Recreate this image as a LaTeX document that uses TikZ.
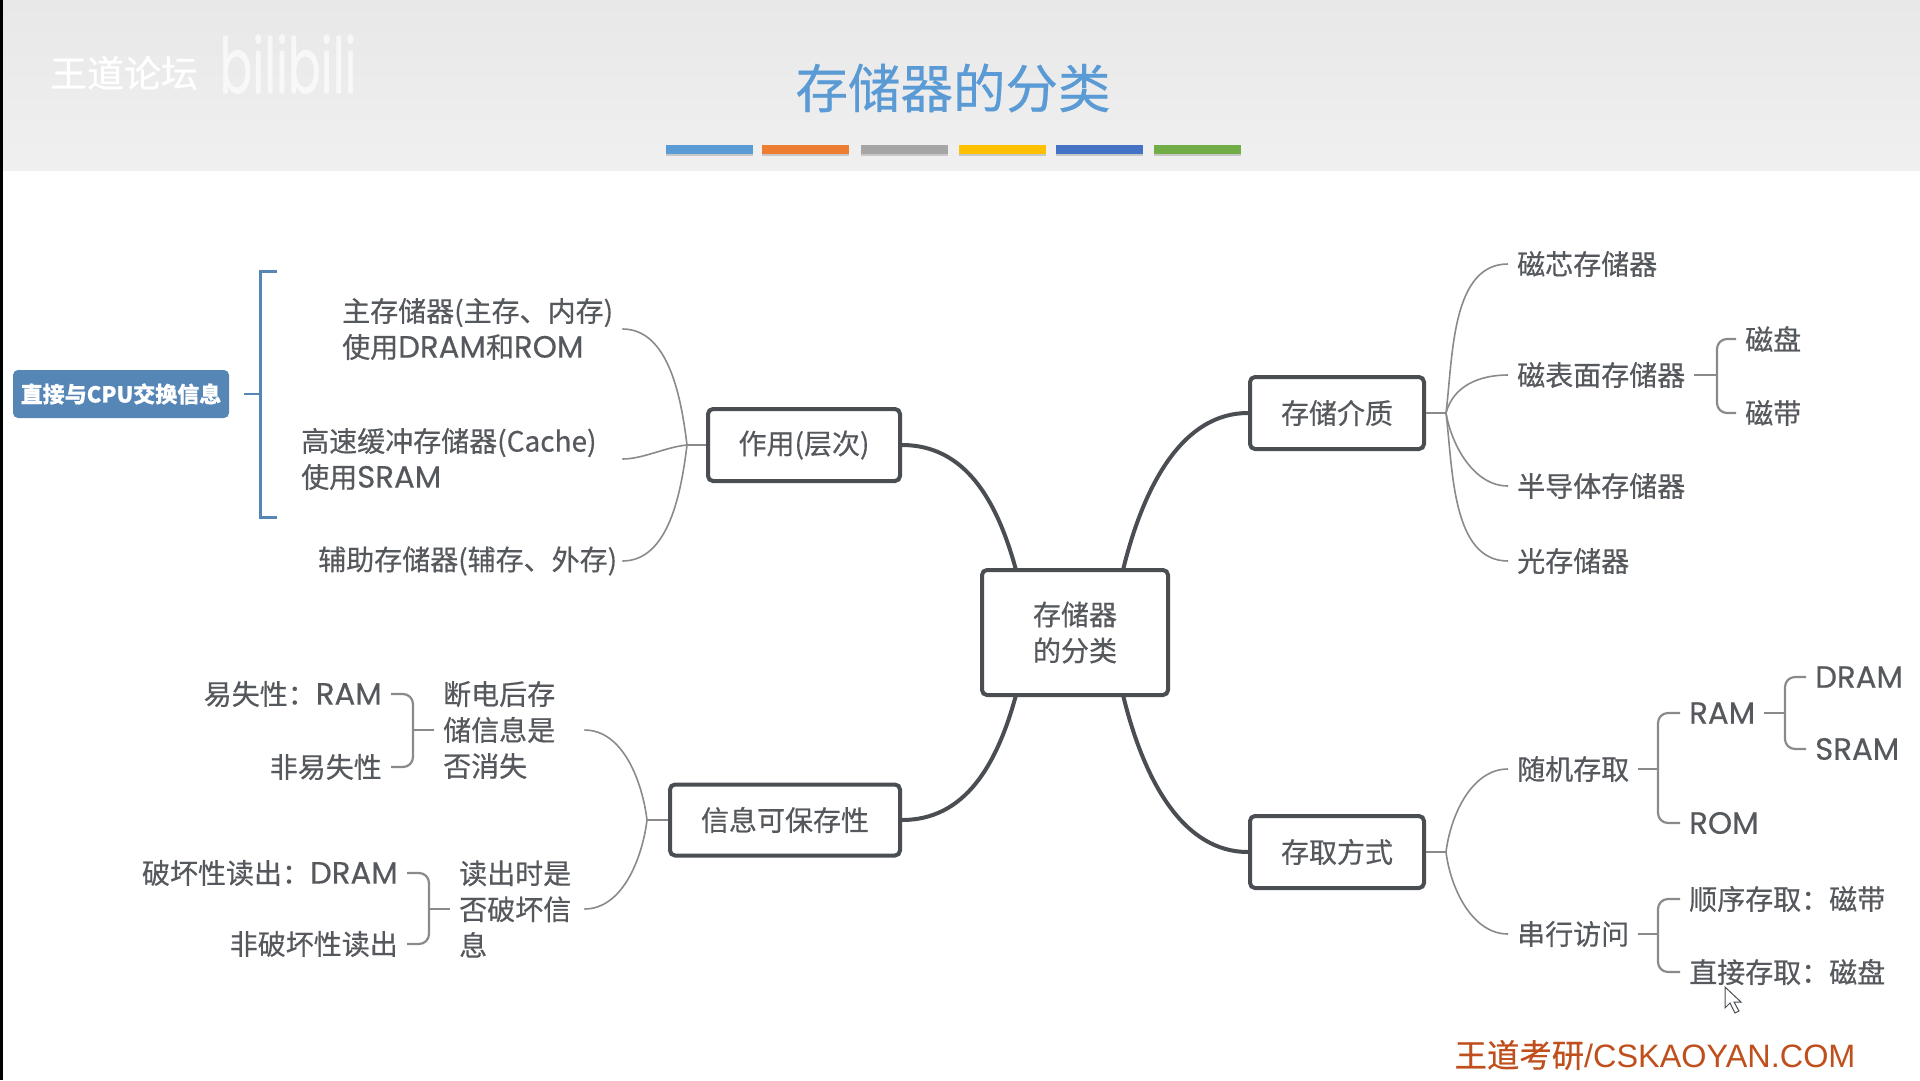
\documentclass[tikz,border=0pt]{standalone}
\usepackage{fontspec}
\setmainfont[RawFeature={embolden=0.5}]{Noto Sans CJK SC}
\newfontfamily\latfont[Scale=1.1,RawFeature={embolden=0.4}]{Poppins}
\newfontfamily\markfont{Liberation Sans}
\usepackage{tikz}
\usetikzlibrary{shadows}
\definecolor{inkGray}{HTML}{55585C}
\definecolor{boxGray}{HTML}{4A4E53}
\definecolor{lineGray}{HTML}{8A8A8A}
\definecolor{tagBlue}{HTML}{5586B6}
\definecolor{titleBlue}{HTML}{5B9BD5}
\definecolor{barOrange}{HTML}{ED7D31}
\definecolor{barGray}{HTML}{A5A5A5}
\definecolor{barYellow}{HTML}{FFC000}
\definecolor{barBlue}{HTML}{4472C4}
\definecolor{barGreen}{HTML}{70AD47}
\definecolor{markRed}{HTML}{BF4F1C}
\newcommand{\lat}[1]{{\latfont #1}}

\begin{document}
\begin{tikzpicture}[
    x=1pt, y=-1pt,
    font=\fontsize{28}{36}\selectfont,
    topic/.style={draw=boxGray, line width=4pt, rounded corners=5pt, fill=white, text=inkGray, align=center, inner sep=0pt},
    leaf/.style={text=inkGray, inner xsep=9pt, inner ysep=0pt, align=left},
    mainline/.style={draw=boxGray, line width=4pt},
    branch/.style={draw=lineGray, line width=1.6pt},
    bracket/.style={draw=lineGray, line width=2.2pt, rounded corners=10pt},
    colorbar/.style={minimum width=87pt, minimum height=9pt, inner sep=0pt, drop shadow={shadow xshift=0pt, shadow yshift=-2pt, opacity=0.35}}
]
    \useasboundingbox (0,0) rectangle (1920,1080);

    % header
    \fill[top color=black!9, bottom color=black!6] (0,0) rectangle (1920,170);
    \fill[black] (0,0) rectangle (3,1080);
    \node[text=white, font=\fontsize{37}{37}\selectfont] (forum) at (124,73) {王道论坛};
    \node[text=white, text opacity=0.65, font=\latfont\fontsize{44}{44}\selectfont, yscale=1.6] (logo) at (288,64) {bilibili};
    \node[text=titleBlue, font=\fontsize{52.5}{52.5}\selectfont] (title) at (953,88) {存储器的分类};
    \foreach \x/\c [count=\i] in {709/titleBlue,805/barOrange,904/barGray,1002/barYellow,1099/barBlue,1197/barGreen} {
        \node[colorbar, fill=\c] (bar\i) at (\x,149.5) {};
    }

    % topics
    \node[topic, minimum width=186pt, minimum height=125pt] (root) at (1075,632.5) {存储器\\的分类};
    \node[topic, minimum width=192pt, minimum height=72pt] (level) at (804,445) {作用(层次)};
    \node[topic, minimum width=230pt, minimum height=71pt] (keep) at (785,820) {信息可保存性};
    \node[topic, minimum width=174pt, minimum height=72pt] (medium) at (1337,413) {存储介质};
    \node[topic, minimum width=174pt, minimum height=72pt] (access) at (1337,852) {存取方式};

    \draw[mainline] (level.east) .. controls (965,445) and (997,500) .. (1016,570);
    \draw[mainline] (keep.east) .. controls (965,820) and (997,765) .. (1016,695);
    \draw[mainline] (medium.west) .. controls (1185,413) and (1145,480) .. (1123,570);
    \draw[mainline] (access.west) .. controls (1185,852) and (1145,785) .. (1123,695);

    % top left
    \node[leaf, anchor=west, text width=271pt] (mainmem) at (333,329) {主存储器(主存、内存)\\使用\lat{DRAM}和\lat{ROM}};
    \node[leaf, anchor=west, text width=312pt] (cache) at (292,459) {高速缓冲存储器(Cache)\\使用\lat{SRAM}};
    \node[leaf, anchor=west, text width=295pt] (aux) at (309,561) {辅助存储器(辅存、外存)};
    \coordinate (levelhub) at (687,445);
    \draw[branch] (level.west) -- (levelhub);
    \draw[branch] (levelhub) to[out=97, in=0, looseness=0.9] (mainmem.east);
    \draw[branch] (levelhub) to[out=185, in=0, looseness=0.8] (cache.east);
    \draw[branch] (levelhub) to[out=-97, in=0, looseness=0.9] (aux.east);

    \node[fill=tagBlue, text=white, rounded corners=5pt, minimum width=216pt, minimum height=48pt, inner sep=0pt, font=\fontsize{22}{22}\selectfont\bfseries] (direct) at (121,394) {直接与CPU交换信息};
    \coordinate (brackettop) at (277,271);
    \coordinate (bracketmid) at (260,394);
    \coordinate (bracketlow) at (277,517);
    \draw[draw=tagBlue, line width=3pt] (brackettop) -- (260,271) -- (260,517) -- (bracketlow);
    \draw[draw=tagBlue, line width=2.2pt] (bracketmid) -- (244,394);

    % bottom left
    \node[leaf, anchor=west, text width=132pt] (power) at (434,730) {断电后存\\储信息是\\否消失};
    \node[leaf, anchor=west, text width=116pt] (readq) at (450,909) {读出时是\\否破坏信\\息};
    \coordinate (keephub) at (647,820);
    \draw[branch] (keep.west) -- (keephub);
    \draw[branch] (keephub) to[out=97, in=0, looseness=0.9] (power.east);
    \draw[branch] (keephub) to[out=-97, in=0, looseness=0.9] (readq.east);

    \node[leaf, anchor=east] (volatile) at (391,694) {易失性：\lat{RAM}};
    \node[leaf, anchor=east] (nonvol) at (391,767) {非易失性};
    \coordinate (powerhub) at (413,730);
    \draw[bracket] (power.west) -- (powerhub);
    \foreach \n in {volatile,nonvol} \draw[bracket] (powerhub) |- (\n.east);

    \node[leaf, anchor=east] (destruct) at (407,873) {破坏性读出：\lat{DRAM}};
    \node[leaf, anchor=east] (nondes) at (407,944) {非破坏性读出};
    \coordinate (readhub) at (429,909);
    \draw[bracket] (readq.west) -- (readhub);
    \foreach \n in {destruct,nondes} \draw[bracket] (readhub) |- (\n.east);

    % top right
    \node[leaf, anchor=west] (core) at (1508,264) {磁芯存储器};
    \node[leaf, anchor=west] (surface) at (1508,375) {磁表面存储器};
    \node[leaf, anchor=west] (semi) at (1508,486) {半导体存储器};
    \node[leaf, anchor=west] (optic) at (1508,561) {光存储器};
    \coordinate (mediumhub) at (1446,413);
    \draw[branch] (medium.east) -- (mediumhub);
    \draw[branch] (mediumhub) to[out=83, in=180, looseness=0.9] (core.west);
    \draw[branch] (mediumhub) to[out=75, in=180] (surface.west);
    \draw[branch] (mediumhub) to[out=-80, in=180, looseness=0.9] (semi.west);
    \draw[branch] (mediumhub) to[out=-83, in=180, looseness=0.9] (optic.west);

    \node[leaf, anchor=west] (disk) at (1736,339) {磁盘};
    \node[leaf, anchor=west] (tape) at (1736,413) {磁带};
    \coordinate (surfacehub) at (1717,375);
    \draw[bracket] (surface.east) -- (surfacehub);
    \foreach \n in {disk,tape} \draw[bracket] (surfacehub) |- (\n.west);

    % bottom right
    \node[leaf, anchor=west] (random) at (1508,769) {随机存取};
    \node[leaf, anchor=west] (serial) at (1508,934) {串行访问};
    \coordinate (accesshub) at (1446,852);
    \draw[branch] (access.east) -- (accesshub);
    \draw[branch] (accesshub) to[out=83, in=180, looseness=0.9] (random.west);
    \draw[branch] (accesshub) to[out=-83, in=180, looseness=0.9] (serial.west);

    \node[leaf, anchor=west] (ram) at (1680,713) {\lat{RAM}};
    \node[leaf, anchor=west] (rom) at (1680,823) {\lat{ROM}};
    \coordinate (randomhub) at (1658,769);
    \draw[bracket] (random.east) -- (randomhub);
    \foreach \n in {ram,rom} \draw[bracket] (randomhub) |- (\n.west);

    \node[leaf, anchor=west] (dram) at (1806,677) {\lat{DRAM}};
    \node[leaf, anchor=west] (sram) at (1806,749) {\lat{SRAM}};
    \coordinate (ramhub) at (1785,713);
    \draw[bracket] (ram.east) -- (ramhub);
    \foreach \n in {dram,sram} \draw[bracket] (ramhub) |- (\n.west);

    \node[leaf, anchor=west] (seq) at (1680,899) {顺序存取：磁带};
    \node[leaf, anchor=west] (direct2) at (1680,972) {直接存取：磁盘};
    \coordinate (serialhub) at (1658,934);
    \draw[bracket] (serial.east) -- (serialhub);
    \foreach \n in {seq,direct2} \draw[bracket] (serialhub) |- (\n.west);

    % footer
    \node[text=markRed, font=\fontsize{32.4}{32.4}\selectfont] (site) at (1655,1055) {王道考研{\markfont /CSKAOYAN.COM}};
    \draw[fill=white, draw=boxGray, line width=1pt] (1725,987) -- (1725,1008) -- (1730,1003) -- (1735,1013) -- (1739,1011) -- (1734,1002) -- (1741,1002) -- cycle;
\end{tikzpicture}
\end{document}
